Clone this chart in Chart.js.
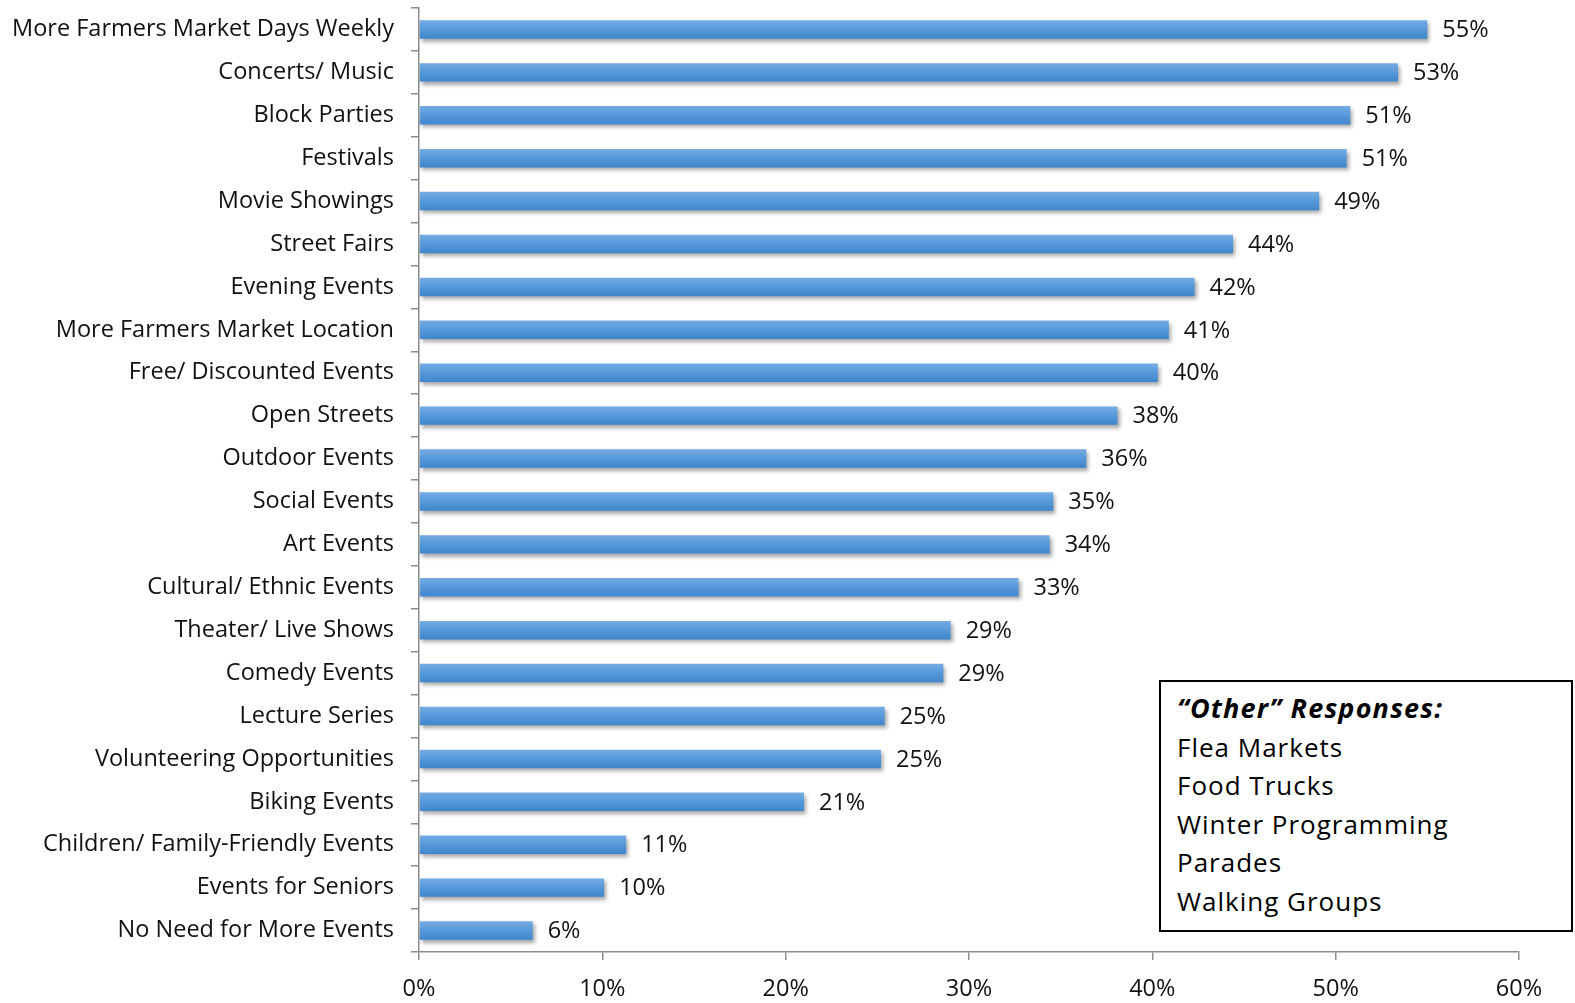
<!DOCTYPE html>
<html>
<head>
<meta charset="utf-8">
<script src="https://cdn.jsdelivr.net/npm/chart.js@4.4.1/dist/chart.umd.min.js"></script>
<style>
  html, body { margin: 0; padding: 0; background: #fff; }
  #wrap { position: relative; width: 1575px; height: 1003px; }
  #other {
    position: absolute; left: 1159px; top: 680px; width: 410px; height: 248px;
    border: 2px solid #000; background: #fff; box-sizing: content-box;
    font-family: "Open Sans", sans-serif; font-size: 26px; line-height: 38.5px; color: #000;
    letter-spacing: 1px;
  }
  #other .in { padding: 7px 0 0 16px; }
  #other b { font-style: italic; font-size: 27px; letter-spacing: 1.2px; }
</style>
</head>
<body>
<div id="wrap">
  <canvas id="chart" width="1575" height="1003"></canvas>
  <div id="other"><div class="in" id="other-list"></div></div>
</div>
<script>
// категории и значения (%)
const categories = [
  'More Farmers Market Days Weekly', 'Concerts/ Music', 'Block Parties', 'Festivals',
  'Movie Showings', 'Street Fairs', 'Evening Events', 'More Farmers Market Location',
  'Free/ Discounted Events', 'Open Streets', 'Outdoor Events', 'Social Events',
  'Art Events', 'Cultural/ Ethnic Events', 'Theater/ Live Shows', 'Comedy Events',
  'Lecture Series', 'Volunteering Opportunities', 'Biking Events',
  'Children/ Family-Friendly Events', 'Events for Seniors', 'No Need for More Events'
];
const values = [55.0, 53.4, 50.8, 50.6, 49.1, 44.4, 42.3, 40.9, 40.3, 38.1, 36.4, 34.6,
  34.4, 32.7, 29.0, 28.6, 25.4, 25.2, 21.0, 11.3, 10.1, 6.2];
const xTicks = [0, 10, 20, 30, 40, 50, 60];
const otherTitle = '\u201COther\u201D Responses:';
const otherItems = ['Flea Markets', 'Food Trucks', 'Winter Programming', 'Parades', 'Walking Groups'];

document.getElementById('other-list').innerHTML =
  '<b>' + otherTitle + '</b><br>' + otherItems.join('<br>');

const FONT = '"Open Sans", sans-serif';

// тень под столбцами
const shadowPlugin = {
  id: 'shadow',
  beforeDatasetsDraw(chart) {
    const ctx = chart.ctx;
    ctx.save();
    ctx.shadowColor = 'rgba(0,0,0,0.35)';
    ctx.shadowOffsetX = 2;
    ctx.shadowOffsetY = 3;
    ctx.shadowBlur = 4;
  },
  afterDatasetsDraw(chart) {
    chart.ctx.restore();
  }
};

// подписи значений
const labelPlugin = {
  id: 'valueLabels',
  afterDatasetsDraw(chart) {
    const ctx = chart.ctx;
    const meta = chart.getDatasetMeta(0);
    ctx.save();
    ctx.font = '23.5px ' + FONT;
    ctx.fillStyle = '#111';
    ctx.textAlign = 'left';
    ctx.textBaseline = 'middle';
    meta.data.forEach((bar, i) => {
      ctx.fillText(Math.round(values[i]) + '%', bar.x + 15, bar.y + 1);
    });
    ctx.restore();
  }
};

new Chart(document.getElementById('chart'), {
  type: 'bar',
  data: {
    labels: categories,
    datasets: [{
      data: values,
      backgroundColor: (c) => {
        const chart = c.chart;
        const y = chart.scales.y;
        if (!y || c.dataIndex === undefined) return '#5599d8';
        const yc = y.getPixelForValue(c.dataIndex);
        if (!isFinite(yc)) return '#5599d8';
        const g = chart.ctx.createLinearGradient(0, yc - 9, 0, yc + 9);
        g.addColorStop(0, '#74abe2');
        g.addColorStop(0.5, '#5699da');
        g.addColorStop(1, '#3f86cc');
        return g;
      },
      barPercentage: 0.43,
      categoryPercentage: 1
    }]
  },
  options: {
    indexAxis: 'y',
    responsive: false,
    animation: false,
    layout: { padding: { top: 8, right: 56, left: 0, bottom: 0 } },
    plugins: { legend: { display: false }, tooltip: { enabled: false } },
    scales: {
      x: {
        min: 0, max: 60,
        afterBuildTicks: (s) => { s.ticks = xTicks.map(v => ({ value: v })); },
        afterFit: (s) => { s.height = 51; s.paddingLeft = 0; s.paddingRight = 0; },
        border: { color: '#8c8c8c', width: 1.5 },
        grid: { drawOnChartArea: false, drawTicks: true, tickLength: 8, color: '#8c8c8c', lineWidth: 1.5 },
        ticks: { color: '#111', font: { family: FONT, size: 23.5 }, padding: 15, callback: (v) => v + '%' }
      },
      y: {
        afterFit: (s) => { s.width = 419; s.paddingTop = 0; s.paddingBottom = 0; },
        border: { color: '#8c8c8c', width: 1.5 },
        grid: { drawOnChartArea: false, drawTicks: true, tickLength: 8, color: '#8c8c8c', lineWidth: 1.5 },
        ticks: { color: '#111', font: { family: FONT, size: 23.5 }, padding: 17, autoSkip: false }
      }
    }
  },
  plugins: [shadowPlugin, labelPlugin]
});
</script>
</body>
</html>
